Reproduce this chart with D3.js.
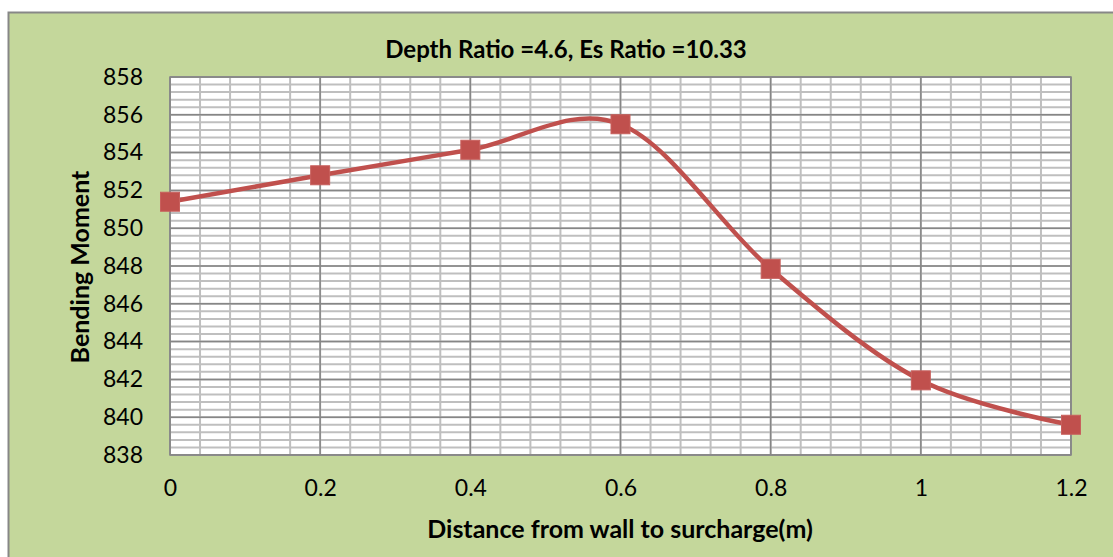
<!DOCTYPE html>
<html>
<head>
<meta charset="utf-8">
<script src="https://cdnjs.cloudflare.com/ajax/libs/d3/7.8.5/d3.min.js"></script>
<style>
  body { margin: 0; background: #fff; }
  text { font-family: Lato, "Open Sans", sans-serif; fill: #000; }
</style>
</head>
<body>
<div id="chart"></div>
<script>
// values
var distances = [0, 0.2, 0.4, 0.6, 0.8, 1.0, 1.2];
var moments = [851.4, 852.8, 854.15, 855.5, 847.85, 841.95, 839.6];
var xTicks = [0, 0.2, 0.4, 0.6, 0.8, 1, 1.2];
var yTicks = [838, 840, 842, 844, 846, 848, 850, 852, 854, 856, 858];

var W = 1113, H = 557;
var margin = { top: 77, right: 42, bottom: 102, left: 170 },
    width = W - margin.left - margin.right,
    height = H - margin.top - margin.bottom;

var root = d3.select("#chart").append("svg")
    .attr("width", W)
    .attr("height", H);

// chart area background
root.append("rect")
    .attr("x", 8.5).attr("y", 12.5)
    .attr("width", W).attr("height", H)
    .attr("fill", "#c4d79b")
    .attr("stroke", "#878787")
    .attr("stroke-width", 2);

var svg = root.append("g")
    .attr("transform", "translate(" + margin.left + "," + margin.top + ")");

var x = d3.scaleLinear().domain([0, 1.2]).range([0, width]);
var y = d3.scaleLinear().domain([838, 858]).range([height, 0]);

// plot area
svg.append("rect")
    .attr("width", width).attr("height", height)
    .attr("fill", "#fff");

// minor grid
var xMinor = d3.range(0, 1.2001, 0.04);
var yMinor = d3.range(838, 858.001, 0.4);
svg.append("g").selectAll("line")
    .data(xMinor)
    .enter().append("line")
    .attr("x1", function (d) { return x(d); })
    .attr("x2", function (d) { return x(d); })
    .attr("y1", 0).attr("y2", height)
    .attr("stroke", "#bfbfbf").attr("stroke-width", 2);
svg.append("g").selectAll("line")
    .data(yMinor)
    .enter().append("line")
    .attr("y1", function (d) { return y(d); })
    .attr("y2", function (d) { return y(d); })
    .attr("x1", 0).attr("x2", width)
    .attr("stroke", "#bfbfbf").attr("stroke-width", 2);

// major grid
svg.append("g").selectAll("line")
    .data(xTicks)
    .enter().append("line")
    .attr("x1", function (d) { return x(d); })
    .attr("x2", function (d) { return x(d); })
    .attr("y1", 0).attr("y2", height)
    .attr("stroke", "#868686").attr("stroke-width", 1.5);
svg.append("g").selectAll("line")
    .data(yTicks)
    .enter().append("line")
    .attr("y1", function (d) { return y(d); })
    .attr("y2", function (d) { return y(d); })
    .attr("x1", 0).attr("x2", width)
    .attr("stroke", "#868686").attr("stroke-width", 1.5);

// plot border
svg.append("rect")
    .attr("width", width).attr("height", height)
    .attr("fill", "none")
    .attr("stroke", "#868686").attr("stroke-width", 1.5);

// axes (labels only)
var xAxis = svg.append("g")
    .attr("transform", "translate(0," + height + ")")
    .call(d3.axisBottom(x).tickValues(xTicks).tickSize(0).tickPadding(25)
        .tickFormat(function (d) { return d3.format("")(+d.toFixed(1)); }));
var yAxis = svg.append("g")
    .call(d3.axisLeft(y).tickValues(yTicks).tickSize(0).tickPadding(27)
        .tickFormat(d3.format("d")));
[xAxis, yAxis].forEach(function (a) {
    a.select(".domain").remove();
    a.selectAll("text").style("font-size", "23px").style("font-family", "Lato, sans-serif");
});

// line
var line = d3.line()
    .x(function (d, i) { return x(distances[i]); })
    .y(function (d) { return y(d); })
    .curve(d3.curveCatmullRom.alpha(0));
svg.append("path")
    .datum(moments)
    .attr("d", line)
    .attr("fill", "none")
    .attr("stroke", "#c0504d")
    .attr("stroke-width", 4.5);

// markers
svg.selectAll(".mark")
    .data(moments)
    .enter().append("rect")
    .attr("class", "mark")
    .attr("x", function (d, i) { return x(distances[i]) - 9.5; })
    .attr("y", function (d) { return y(d) - 9.5; })
    .attr("width", 19).attr("height", 19)
    .attr("fill", "#c0504d")
    .attr("stroke", "#c8605d")
    .attr("stroke-width", 1);

// title
root.append("text")
    .attr("x", 566).attr("y", 58)
    .attr("text-anchor", "middle")
    .style("font-size", "24px").style("font-weight", "bold")
    .text("Depth Ratio =4.6, Es Ratio =10.33");

// axis titles
root.append("text")
    .attr("x", 620).attr("y", 538)
    .attr("text-anchor", "middle")
    .style("font-size", "25px").style("font-weight", "bold")
    .text("Distance from wall to surcharge(m)");

root.append("text")
    .attr("transform", "translate(89,267) rotate(-90)")
    .attr("text-anchor", "middle")
    .style("font-size", "25px").style("font-weight", "bold")
    .text("Bending Moment");
</script>
</body>
</html>
